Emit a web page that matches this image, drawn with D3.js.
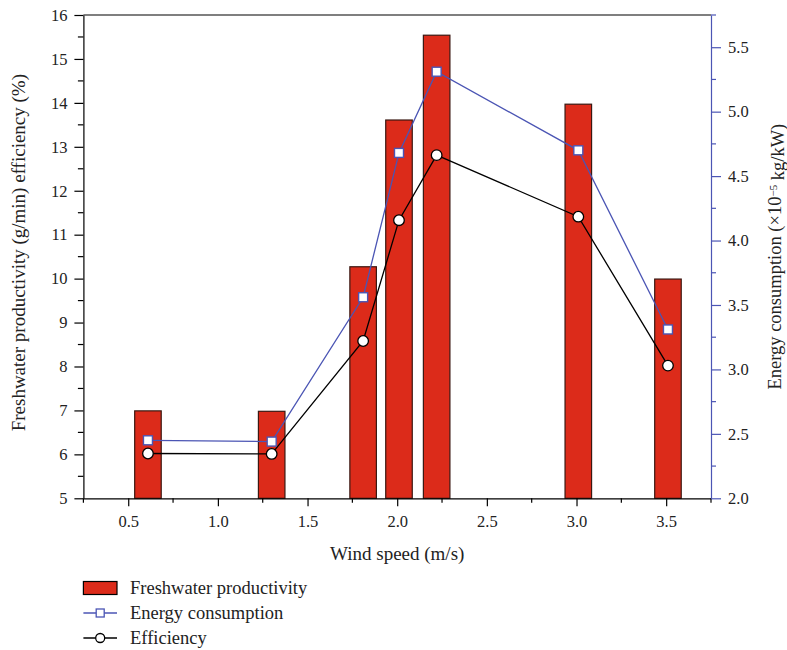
<!DOCTYPE html>
<html>
<head>
<meta charset="utf-8">
<script src="https://cdn.jsdelivr.net/npm/d3@7"></script>
<style>
  html, body { margin: 0; padding: 0; background: #fff; }
  svg, svg text { font-family: "Liberation Serif", "DejaVu Serif", serif; }
</style>
</head>
<body>
<svg id="chart" width="787" height="650"></svg>
<script>
// ---- data ----
const windSpeed = [0.61, 1.30, 1.81, 2.01, 2.22, 3.01, 3.51];
const productivity = [6.99, 6.98, 10.27, 13.61, 15.54, 13.97, 9.99];
const energy = [2.45, 2.44, 3.56, 4.68, 5.31, 4.70, 3.31];
const efficiency = [6.02, 6.01, 8.58, 11.33, 12.81, 11.41, 8.02];
const xTicks = [0.5, 1.0, 1.5, 2.0, 2.5, 3.0, 3.5];
const yLeftTicks = [5, 6, 7, 8, 9, 10, 11, 12, 13, 14, 15, 16];
const yRightTicks = [2.0, 2.5, 3.0, 3.5, 4.0, 4.5, 5.0, 5.5];
const legendLabels = ["Freshwater productivity", "Energy consumption", "Efficiency"];
const barWidthUnits = 0.148;

const RED = "#dc2b1a", BAR_STROKE = "#3a1812", BLUE = "#4b55b4";
const FONT = '"Liberation Serif", "DejaVu Serif", serif';

const svg = d3.select("#chart");
const M = { left: 83.4, top: 15, right: 711, bottom: 498.3 };

const x = d3.scaleLinear().domain([0.25, 3.75]).range([M.left, M.right]);
const yL = d3.scaleLinear().domain([5, 16]).range([M.bottom, M.top]);
const yR = d3.scaleLinear().domain([2, 5.75]).range([M.bottom, M.top]);

const tickFont = "16.5px";

// minor ticks
const xMinor = d3.range(0.25, 3.76, 0.25).filter(v => !xTicks.some(t => Math.abs(t - v) < 1e-6));
const yLMinor = d3.range(5.5, 16, 1);
const yRMinor = d3.range(2.25, 5.76, 0.5);

// bars
const data = windSpeed.map((w, i) => ({ w, p: productivity[i], e: energy[i], f: efficiency[i] }));
const bw = x(barWidthUnits) - x(0);
svg.append("g").selectAll("rect").data(data).join("rect")
  .attr("x", d => x(d.w) - bw / 2)
  .attr("y", d => yL(d.p))
  .attr("width", bw)
  .attr("height", d => yL(5) - yL(d.p))
  .attr("fill", RED)
  .attr("stroke", BAR_STROKE)
  .attr("stroke-width", 1.2);

// top frame line
svg.append("line").attr("x1", M.left).attr("x2", M.right).attr("y1", M.top).attr("y2", M.top)
  .attr("stroke", "#000").attr("stroke-width", 1.2);

function styleAxis(g, color) {
  g.attr("font-family", FONT).style("font-family", FONT).attr("font-size", tickFont);
  g.selectAll("text").style("font-family", FONT).style("font-size", tickFont).attr("fill", "#222");
  g.selectAll("path,line").attr("stroke", color).attr("stroke-width", 1.2);
}

// bottom axis
const gx = svg.append("g").attr("transform", `translate(0,${M.bottom})`)
  .call(d3.axisBottom(x).tickValues(xTicks).tickFormat(d3.format(".1f")).tickSize(8).tickSizeOuter(0));
gx.append("g").selectAll("line").data(xMinor).join("line")
  .attr("x1", d => x(d)).attr("x2", d => x(d)).attr("y1", 0).attr("y2", 4.5);
styleAxis(gx, "#000");
gx.selectAll("text").attr("dy", "1.05em");

// left axis
const gl = svg.append("g").attr("transform", `translate(${M.left},0)`)
  .call(d3.axisLeft(yL).tickValues(yLeftTicks).tickFormat(d3.format("d")).tickSize(9).tickSizeOuter(0));
gl.append("g").selectAll("line").data(yLMinor).join("line")
  .attr("x1", 0).attr("x2", -5.5).attr("y1", d => yL(d)).attr("y2", d => yL(d));
styleAxis(gl, "#000");
gl.selectAll("text").attr("x", -16);

// right axis
const gr = svg.append("g").attr("transform", `translate(${M.right},0)`)
  .call(d3.axisRight(yR).tickValues(yRightTicks).tickFormat(d3.format(".1f")).tickSize(10).tickSizeOuter(0));
gr.append("g").selectAll("line").data(yRMinor).join("line")
  .attr("x1", 0).attr("x2", 5).attr("y1", d => yR(d)).attr("y2", d => yR(d));
styleAxis(gr, BLUE);
gr.selectAll("text").attr("x", 17);

// lines
const lineE = d3.line().x(d => x(d.w)).y(d => yR(d.e));
const lineF = d3.line().x(d => x(d.w)).y(d => yL(d.f));
svg.append("path").datum(data).attr("d", lineE).attr("fill", "none").attr("stroke", BLUE).attr("stroke-width", 1.3);
svg.append("path").datum(data).attr("d", lineF).attr("fill", "none").attr("stroke", "#000").attr("stroke-width", 1.3);

const sq = 9;
svg.append("g").selectAll("rect").data(data).join("rect")
  .attr("x", d => x(d.w) - sq / 2).attr("y", d => yR(d.e) - sq / 2)
  .attr("width", sq).attr("height", sq)
  .attr("fill", "#fff").attr("stroke", BLUE).attr("stroke-width", 1.4);
svg.append("g").selectAll("circle").data(data).join("circle")
  .attr("cx", d => x(d.w)).attr("cy", d => yL(d.f)).attr("r", 5.3)
  .attr("fill", "#fff").attr("stroke", "#000").attr("stroke-width", 1.3);

// axis titles
const titleFont = "19px";
svg.append("text").attr("x", (M.left + M.right) / 2).attr("y", 560)
  .attr("text-anchor", "middle").attr("font-size", titleFont).attr("fill", "#222").text("Wind speed (m/s)");
svg.append("text").attr("transform", `translate(25,${(M.top + M.bottom) / 2 - 4}) rotate(-90)`)
  .attr("text-anchor", "middle").attr("font-size", titleFont).attr("fill", "#222")
  .text("Freshwater productivity (g/min) efficiency (%)");
const rt = svg.append("text").attr("transform", `translate(781,${(M.top + M.bottom) / 2}) rotate(-90)`)
  .attr("text-anchor", "middle").attr("font-size", "18.5px").attr("fill", "#222");
rt.append("tspan").text("Energy consumption  (×10");
rt.append("tspan").attr("dy", "-0.4em").attr("font-size", "11px").text("−5");
rt.append("tspan").attr("dy", "0.4em").text(" kg/kW)");

// legend
const lg = svg.append("g");
const lx0 = 83.4, lx1 = 117, rows = [588, 613, 638];
lg.append("rect").attr("x", lx0).attr("y", rows[0] - 6.5).attr("width", lx1 - lx0).attr("height", 13)
  .attr("fill", RED).attr("stroke", "#000").attr("stroke-width", 1.2);
lg.append("line").attr("x1", lx0).attr("x2", lx1).attr("y1", rows[1]).attr("y2", rows[1]).attr("stroke", BLUE).attr("stroke-width", 1.3);
lg.append("rect").attr("x", (lx0 + lx1) / 2 - 4).attr("y", rows[1] - 4).attr("width", 8).attr("height", 8)
  .attr("fill", "#fff").attr("stroke", BLUE).attr("stroke-width", 1.3);
lg.append("line").attr("x1", lx0).attr("x2", lx1).attr("y1", rows[2]).attr("y2", rows[2]).attr("stroke", "#000").attr("stroke-width", 1.3);
lg.append("circle").attr("cx", (lx0 + lx1) / 2).attr("cy", rows[2]).attr("r", 4.5)
  .attr("fill", "#fff").attr("stroke", "#000").attr("stroke-width", 1.3);
lg.selectAll("text.lab").data(legendLabels).join("text").attr("class", "lab")
  .attr("x", 130).attr("y", (d, i) => rows[i]).attr("dy", "0.35em")
  .attr("font-size", "18.5px").attr("fill", "#222").text(d => d);
</script>
</body>
</html>
